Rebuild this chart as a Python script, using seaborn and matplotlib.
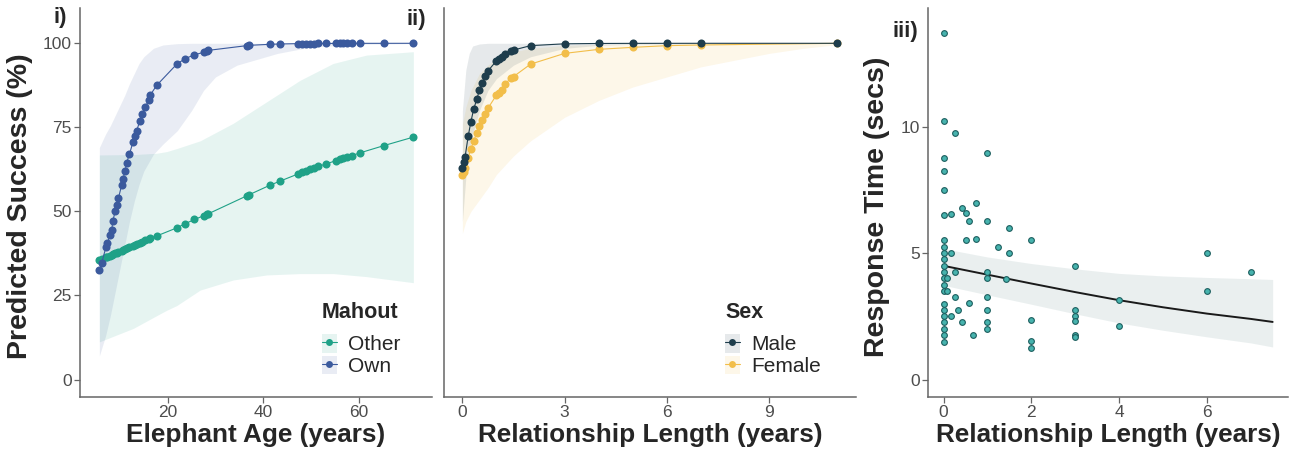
import numpy as np
import pandas as pd
import matplotlib
matplotlib.use('Agg')
import matplotlib.pyplot as plt
import seaborn as sns
from matplotlib.patches import Patch
from matplotlib.lines import Line2D

# ---- panel i: predicted success by elephant age ----
ages = [5.7, 6.2, 7.1, 7.4, 7.9, 8.3, 8.5, 9.0, 9.3, 9.7,
        10.4, 10.6, 11.1, 11.4, 12.0, 12.7, 13.2, 13.5, 14.2, 14.6,
        15.3, 16.0, 16.3, 17.7, 21.9, 23.6, 25.6, 27.5, 28.2, 28.5,
        36.5, 37.1, 41.4, 43.5, 47.2, 48.0, 48.9, 49.8, 50.6, 51.5,
        53.1, 55.2, 56.0, 56.7, 57.6, 58.5, 60.2, 65.3, 71.4]
own_pred = [32.5, 34.7, 39.5, 40.5, 43.0, 44.5, 47.0, 50.0, 52.0, 54.0,
            58.0, 59.5, 62.0, 64.5, 67.0, 70.5, 72.5, 74.0, 77.0, 79.0,
            81.0, 83.0, 84.5, 87.5, 93.8, 95.4, 96.6, 97.3, 97.6, 97.9,
            99.3, 99.4, 99.7, 99.8, 99.9, 99.9, 99.9, 99.9, 99.9, 99.95,
            99.95, 99.97, 99.97, 99.97, 99.98, 99.98, 99.99, 99.99, 100.0]
other_pred = [35.5, 35.8, 36.3, 36.5, 36.8, 37.0, 37.2, 37.5, 37.7, 37.9,
              38.3, 38.5, 38.8, 39.0, 39.4, 39.8, 40.1, 40.3, 40.7, 41.0,
              41.4, 41.8, 42.0, 42.7, 45.1, 46.3, 47.6, 48.7, 49.1, 49.3,
              54.6, 55.0, 57.8, 59.0, 61.1, 61.6, 62.1, 62.5, 62.9, 63.4,
              64.1, 65.1, 65.5, 65.8, 66.2, 66.6, 67.4, 69.6, 72.1]

own_band_age = [5.7, 7, 8, 9, 10, 11, 12, 13, 14, 15, 17, 19, 22, 25, 27.5, 30, 34.5, 43, 50, 60, 71.4]
own_upper = [69, 73, 75.5, 78.5, 81.5, 84.5, 88, 91, 94, 96, 98.5, 99.5, 99.9, 100, 100, 100, 100, 100, 100, 100, 100]
own_lower = [7, 13, 19, 26, 33, 40, 47, 53, 58, 62, 67, 70, 74, 80, 86, 90, 93.5, 97, 98.9, 99.7, 99.9]

other_band_age = [5.7, 12.8, 17.7, 19.8, 21.9, 26.8, 33.7, 40.7, 47.7, 54.6, 61.6, 71.4]
other_upper = [66.8, 66.9, 67.3, 67.8, 68.7, 71.0, 76.2, 82.6, 89.0, 94.0, 96.5, 97.5]
other_lower = [11.2, 15.2, 19.0, 20.6, 22.0, 26.6, 29.6, 31.1, 31.5, 31.5, 30.6, 28.8]

# ---- panel ii: predicted success by relationship length ----
rel_len = [0, 0.04, 0.08, 0.17, 0.25, 0.33, 0.42, 0.5, 0.58, 0.67, 0.75,
           1.0, 1.08, 1.17, 1.25, 1.42, 1.5, 2, 3, 4, 5, 6, 7, 11]
male_pred = [63.0, 64.8, 66.3, 72.4, 76.7, 80.4, 83.3, 86.1, 88.3, 90.3, 91.8,
             94.8, 95.4, 96.0, 96.8, 97.6, 98.0, 99.3, 99.85, 99.95, 99.98, 99.99, 100, 100]
female_pred = [60.8, 61.8, 62.8, 66.0, 68.6, 71.0, 73.2, 75.4, 77.2, 78.9, 80.7,
               84.6, 85.3, 86.1, 87.9, 89.6, 90.1, 93.8, 97.0, 98.2, 98.8, 99.3, 99.5, 100]

male_band_x = [0, 0.1, 0.2, 0.3, 0.5, 0.75, 1, 1.5, 2, 3, 4, 5, 7, 11]
male_upper = [80, 92, 97, 99.2, 99.8, 100, 100, 100, 100, 100, 100, 100, 100, 100]
male_lower = [47, 60, 68, 73, 80, 86, 89.5, 93.5, 96, 98.5, 99.4, 99.7, 99.9, 99.98]

female_band_x = [0, 0.1, 0.25, 0.5, 0.75, 1, 1.5, 2, 3, 4, 5, 6, 7, 8, 9, 10, 11]
female_upper = [76, 81, 86, 91, 93.5, 95.5, 97.5, 98.5, 99.4, 99.7, 99.8, 99.9, 99.95, 99.97, 99.98, 99.99, 100]
female_lower = [43.5, 47, 50, 53.5, 57, 61, 66.5, 71, 78, 83, 87, 90, 93, 95, 97, 98.5, 99.6]

# ---- panel iii: response time ----
resp_x = ([0] * 22 + [0.08] * 2 + [0.17] * 3 + [0.25] * 3 + [0.33] + [0.42] * 2
          + [0.5] * 2 + [0.58] * 2 + [0.67] + [0.75] * 2 + [1.0] * 8 + [1.25] + [1.42]
          + [1.5] * 2 + [2] * 4 + [3] * 6 + [4] * 2 + [6] * 2 + [7])
resp_time = [13.73, 10.24, 8.75, 8.25, 7.49, 6.5, 5.51, 5.25, 5.0, 4.76, 4.5,
             4.26, 4.0, 3.75, 3.51, 3.0, 2.77, 2.52, 2.26, 2.02, 1.75, 1.5,
             4.0, 3.5,
             6.54, 5.01, 2.52,
             9.74, 4.26, 3.27,
             2.74,
             6.77, 2.26,
             6.6, 5.51,
             6.27, 3.01,
             1.78,
             7.0, 5.58,
             8.98, 6.27, 4.26, 4.02, 3.27, 2.74, 2.26, 2.02,
             5.25,
             3.97,
             6.0, 5.01,
             5.51, 2.35, 1.52, 1.25,
             4.5, 2.77, 2.52, 2.31, 1.78, 1.69,
             3.14, 2.12,
             5.01, 3.51,
             4.26]
fit_x = [0, 1, 2, 3, 4, 5, 6, 7, 7.5]
fit_y = [4.5, 4.15, 3.8, 3.46, 3.14, 2.86, 2.61, 2.4, 2.28]
fit_upper = [5.18, 4.85, 4.59, 4.38, 4.2, 4.1, 4.04, 3.99, 3.96]
fit_lower = [3.73, 3.35, 2.98, 2.6, 2.24, 1.95, 1.69, 1.45, 1.29]

# colours
c_own, c_other = '#3B5A9D', '#1FA187'
c_male, c_female = '#1E3D4C', '#F2BE4A'
c_dot, c_dot_edge = '#47B3AE', '#1D5E5E'
c_axis = '#666666'

sns.set_style('white')
plt.rcParams['font.family'] = ['Liberation Sans', 'DejaVu Sans']

fig = plt.figure(figsize=(12.89, 4.55), dpi=100)
W, H = 1289, 455
def box(l, r, b=397, t=8):
    return [l / W, 1 - b / H, (r - l) / W, (b - t) / H]

ax1 = fig.add_axes(box(80, 432))
ax2 = fig.add_axes(box(444, 856))
ax3 = fig.add_axes(box(928, 1288))

df1 = pd.DataFrame({'age': ages * 2, 'pred': other_pred + own_pred,
                    'Mahout': ['Other'] * len(ages) + ['Own'] * len(ages)})
df2 = pd.DataFrame({'len': rel_len * 2, 'pred': male_pred + female_pred,
                    'Sex': ['Male'] * len(rel_len) + ['Female'] * len(rel_len)})
df3 = pd.DataFrame({'len': resp_x, 'time': resp_time})

# panel i
ax1.fill_between(other_band_age, other_lower, other_upper, color=c_other, alpha=0.11, lw=0)
ax1.fill_between(own_band_age, own_lower, own_upper, color=c_own, alpha=0.11, lw=0)
sns.lineplot(data=df1, x='age', y='pred', hue='Mahout', palette={'Other': c_other, 'Own': c_own},
             marker='o', markersize=5.8, markeredgewidth=0, linewidth=0.8, ax=ax1, legend=False)

# panel ii
ax2.fill_between(female_band_x, female_lower, female_upper, color=c_female, alpha=0.12, lw=0)
ax2.fill_between(male_band_x, male_lower, male_upper, color=c_male, alpha=0.11, lw=0)
sns.lineplot(data=df2, x='len', y='pred', hue='Sex', hue_order=['Female', 'Male'],
             palette={'Male': c_male, 'Female': c_female},
             marker='o', markersize=5.8, markeredgewidth=0, linewidth=0.8, ax=ax2, legend=False)

# panel iii
ax3.fill_between(fit_x, fit_lower, fit_upper, color='#5E8A8A', alpha=0.13, lw=0)
sns.lineplot(x=fit_x, y=fit_y, color='#1a1a1a', linewidth=1.4, ax=ax3)
sns.scatterplot(data=df3, x='len', y='time', color=c_dot, edgecolor=c_dot_edge,
                linewidth=0.8, s=17, ax=ax3, zorder=3)

for ax in (ax1, ax2, ax3):
    sns.despine(ax=ax)
    for s in ('left', 'bottom'):
        ax.spines[s].set_color(c_axis)
        ax.spines[s].set_linewidth(1.1)
    ax.tick_params(axis='both', colors=c_axis, labelcolor='#4D4D4D', labelsize=12.5,
                   length=4, width=0.9, direction='out', bottom=True, left=True, pad=2)
    ax.set_xlabel('')
    ax.set_ylabel('')

xlab = dict(fontsize=18.8, fontweight='bold', labelpad=2)
ylab = dict(fontsize=20.5, fontweight='bold')

ax1.set_xlim(1.65, 75.3)
ax1.set_ylim(-5.2, 110.5)
ax1.set_xticks([20, 40, 60])
ax1.set_yticks([0, 25, 50, 75, 100])
ax1.set_xlabel('Elephant Age (years)', **xlab)
ax1.set_ylabel('Predicted Success (%)', **ylab)
ax1.yaxis.set_label_coords((33 - 80) / 352, 0.49)

ax2.set_xlim(-0.54, 11.55)
ax2.set_ylim(-5.2, 110.5)
ax2.set_xticks([0, 3, 6, 9])
ax2.set_yticks([])
ax2.set_xlabel('Relationship Length (years)', **xlab)

ax3.set_xlim(-0.355, 7.85)
ax3.set_ylim(-0.69, 14.7)
ax3.set_xticks([0, 2, 4, 6])
ax3.set_yticks([0, 5, 10])
ax3.set_xlabel('Relationship Length (years)', **xlab)
ax3.set_ylabel('Response Time (secs)', **ylab)
ax3.yaxis.set_label_coords((890 - 928) / 360, 0.49)

# panel tags
tag = dict(fontsize=16, fontweight='bold', ha='center', va='center')
fig.text(60 / W, 1 - 18 / H, 'i)', **tag)
fig.text(416 / W, 1 - 20 / H, 'ii)', **tag)
fig.text(905 / W, 1 - 31 / H, 'iii)', **tag)

def key(c, alpha):
    return (Patch(facecolor=c, alpha=alpha, edgecolor='none'),
            Line2D([], [], color=c, marker='o', markersize=5, markeredgewidth=0, lw=0.8))

leg_kw = dict(loc='upper left', frameon=False, fontsize=15,
              handlelength=0.7, handleheight=1.0, labelspacing=0.05,
              handletextpad=0.55, borderpad=0, borderaxespad=0,
              bbox_transform=fig.transFigure)
ttl = dict(fontsize=15.5, fontweight='bold', ha='left', va='center')

fig.text(322 / W, 1 - 313 / H, 'Mahout', **ttl)
ax1.legend([key(c_other, 0.11), key(c_own, 0.11)], ['Other', 'Own'],
           bbox_to_anchor=(322 / W, 1 - 334 / H), **leg_kw)
fig.text(725 / W, 1 - 313 / H, 'Sex', **ttl)
ax2.legend([key(c_male, 0.11), key(c_female, 0.12)], ['Male', 'Female'],
           bbox_to_anchor=(725 / W, 1 - 334 / H), **leg_kw)

fig.savefig('out.png', dpi=100)
